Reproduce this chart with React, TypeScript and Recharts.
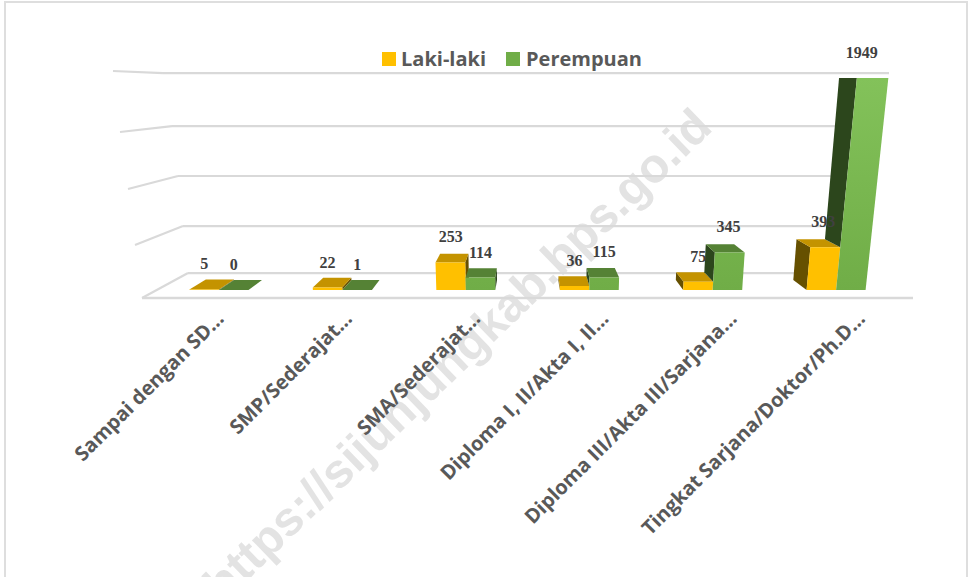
import { Bar, BarChart, CartesianGrid, LabelList, Legend, XAxis, YAxis } from "recharts";

const categories = [
  "Sampai dengan SD…",
  "SMP/Sederajat…",
  "SMA/Sederajat…",
  "Diploma I, II/Akta I, II…",
  "Diploma III/Akta III/Sarjana…",
  "Tingkat Sarjana/Doktor/Ph.D…",
];
const lakiLaki = [5, 22, 253, 36, 75, 393];
const perempuan = [0, 1, 114, 115, 345, 1949];
// back wall sits behind the bars, so its lines land at these values on the bar scale
const wallValues = [156, 588, 1048, 1507, 1994];

const data = categories.map((name, i) => ({ name, lakiLaki: lakiLaki[i], perempuan: perempuan[i] }));

const LABEL_COLOR = "#595959";
const GRID_COLOR = "#d9d9d9";

// fake 3D: everything leans toward this x
const VANISH_X = 530;
const project = (x0: number, base: number, h: number, depth: number) => ({
  x: x0 + 0.00032 * (x0 - VANISH_X) * h + depth * 0.048 * (VANISH_X - x0) * (1 + h / 1000),
  y: base - h + depth * (-10 + 0.047 * h),
});
const poly = (pts: { x: number; y: number }[]) => pts.map((p) => `${p.x},${p.y}`).join(" ");

const Bar3D = ({ x, y, width, height, payload, colors, isGreen }: any) => {
  const base = y + height;
  const h = height;
  const fl = x;
  const fr = x + width;
  const frontFace = [project(fl, base, 0, 0), project(fr, base, 0, 0), project(fr, base, h, 0), project(fl, base, h, 0)];
  const topFace = [project(fl, base, h, 0), project(fr, base, h, 0), project(fr, base, h, 1), project(fl, base, h, 1)];
  let side = null;
  if (fr < VANISH_X) {
    side = [project(fr, base, 0, 0), project(fr, base, h, 0), project(fr, base, h, 1), project(fr, base, 0, 1)];
  } else if (fl > VANISH_X) {
    // green's side stops where the yellow bar in front of it ends
    const scale = h / Math.max(payload.perempuan, 1);
    const low = isGreen ? Math.min(payload.lakiLaki * scale, h) : 0;
    side = [project(fl, base, low, 0), project(fl, base, h, 0), project(fl, base, h, 1), project(fl, base, low, 1)];
  }
  return (
    <g>
      {side && <polygon points={poly(side)} fill={colors.side} />}
      <polygon points={poly(topFace)} fill={colors.top} />
      <polygon points={poly(frontFace)} fill={colors.front} />
    </g>
  );
};

const yellow = { front: "#ffc000", top: "#c49300", side: "#665000" };
const green = { front: "url(#greenFront)", top: "#558235", side: "#2c461c" };

const ValueLabel = ({ x, y, width, value }: any) => {
  const cx = x + width / 2;
  const h = 290 - y;
  return (
    <text
      x={cx + 0.00032 * (cx - VANISH_X) * h * 0.5}
      y={y - 20}
      textAnchor="middle"
      fontFamily="'Liberation Serif', serif"
      fontWeight={700}
      fontSize={16}
      fill="#404040"
    >
      {value}
    </text>
  );
};

const CategoryTick = ({ x, index, payload }: any) => (
  <text
    transform={`translate(${x + 6 + index * 4.8},${320}) rotate(-45)`}
    textAnchor="end"
    fontFamily="'Open Sans', sans-serif"
    fontWeight={700}
    fontSize={20}
    fill={LABEL_COLOR}
  >
    {payload.value}
  </text>
);

const NoTick = () => <g />;

// wall lines with the short slanted leg on the left, bottom line first
const wallLeft = [188, 183, 178, 172, 163];
const legEnd = [
  [142, 298],
  [135, 245],
  [128, 189],
  [120, 132],
  [113, 71],
];
const wallRight = [860, 865, 870, 875, 889];
const WallLine = ({ y1, index }: any) => {
  const i = Math.round((273 - y1) / 50);
  if (i < 0 || i >= wallLeft.length) return <g key={index} />;
  return (
    <g key={index} stroke={GRID_COLOR} strokeWidth={2.2} fill="none">
      <line x1={wallLeft[i]} y1={y1} x2={wallRight[i]} y2={y1} />
      <line x1={wallLeft[i]} y1={y1} x2={legEnd[i][0]} y2={legEnd[i][1]} />
    </g>
  );
};

const LegendContent = () => (
  <div
    style={{
      display: "flex",
      fontFamily: "'Open Sans', sans-serif",
      fontWeight: 700,
      fontSize: 20,
      color: LABEL_COLOR,
      lineHeight: "24px",
    }}
  >
    <span style={{ display: "flex", alignItems: "center", width: 124 }}>
      <span style={{ width: 14, height: 14, background: "#ffc000", marginRight: 5 }} />
      Laki-laki
    </span>
    <span style={{ display: "flex", alignItems: "center" }}>
      <span style={{ width: 14, height: 14, background: "#70ad47", marginRight: 6 }} />
      Perempuan
    </span>
  </div>
);

export default function App() {
  return (
    <div style={{ position: "absolute", left: 0, top: 0, width: 972, height: 577, background: "#fff", overflow: "hidden" }}>
      <div
        style={{
          position: "absolute",
          left: 4,
          top: 1,
          width: 960,
          height: 600,
          border: "2px solid #dedede",
        }}
      />
      <div
        style={{
          position: "absolute",
          left: 212,
          top: 568,
          whiteSpace: "nowrap",
          transformOrigin: "0 50%",
          transform: "rotate(-44deg)",
          fontFamily: "'Liberation Sans', sans-serif",
          fontWeight: 700,
          fontSize: 48,
          lineHeight: "48px",
          color: "#e3e3e3",
        }}
      >
        https://sijunjungkab.bps.go.id
      </div>
      <div style={{ position: "absolute", left: 0, top: 0 }}>
        <BarChart
          width={972}
          height={577}
          data={data}
          barSize={29.5}
          barGap={0}
          margin={{ top: 72.4, right: 59, bottom: 0, left: 142 }}
        >
          <defs>
            <linearGradient id="greenFront" gradientUnits="userSpaceOnUse" x1="0" y1="290" x2="0" y2="78">
              <stop offset="0%" stopColor="#70ad47" />
              <stop offset="100%" stopColor="#83c25a" />
            </linearGradient>
          </defs>
          <CartesianGrid vertical={false} syncWithTicks horizontal={(props: any) => <WallLine {...props} />} />
          <XAxis
            dataKey="name"
            padding={{ left: 15.5, right: 15 }}
            axisLine={{ stroke: GRID_COLOR, strokeWidth: 2.5 }}
            tickLine={false}
            interval={0}
            height={279}
            tick={(props: any) => <CategoryTick {...props} />}
          />
          <YAxis
            width={0}
            axisLine={false}
            tickLine={false}
            tick={NoTick}
            domain={[-73.5, 2000]}
            ticks={wallValues}
            interval={0}
          />
          <Legend
            verticalAlign="middle"
            align="center"
            layout="horizontal"
            wrapperStyle={{ left: 382, top: 47, width: 300 }}
            content={<LegendContent />}
          />
          <Bar dataKey="lakiLaki" name="Laki-laki" fill="#ffc000" isAnimationActive={false} shape={(p: any) => <Bar3D {...p} colors={yellow} />}>
            <LabelList dataKey="lakiLaki" content={<ValueLabel />} />
          </Bar>
          <Bar dataKey="perempuan" name="Perempuan" fill="#70ad47" isAnimationActive={false} shape={(p: any) => <Bar3D {...p} colors={green} isGreen />}>
            <LabelList dataKey="perempuan" content={<ValueLabel />} />
          </Bar>
        </BarChart>
      </div>
    </div>
  );
}
